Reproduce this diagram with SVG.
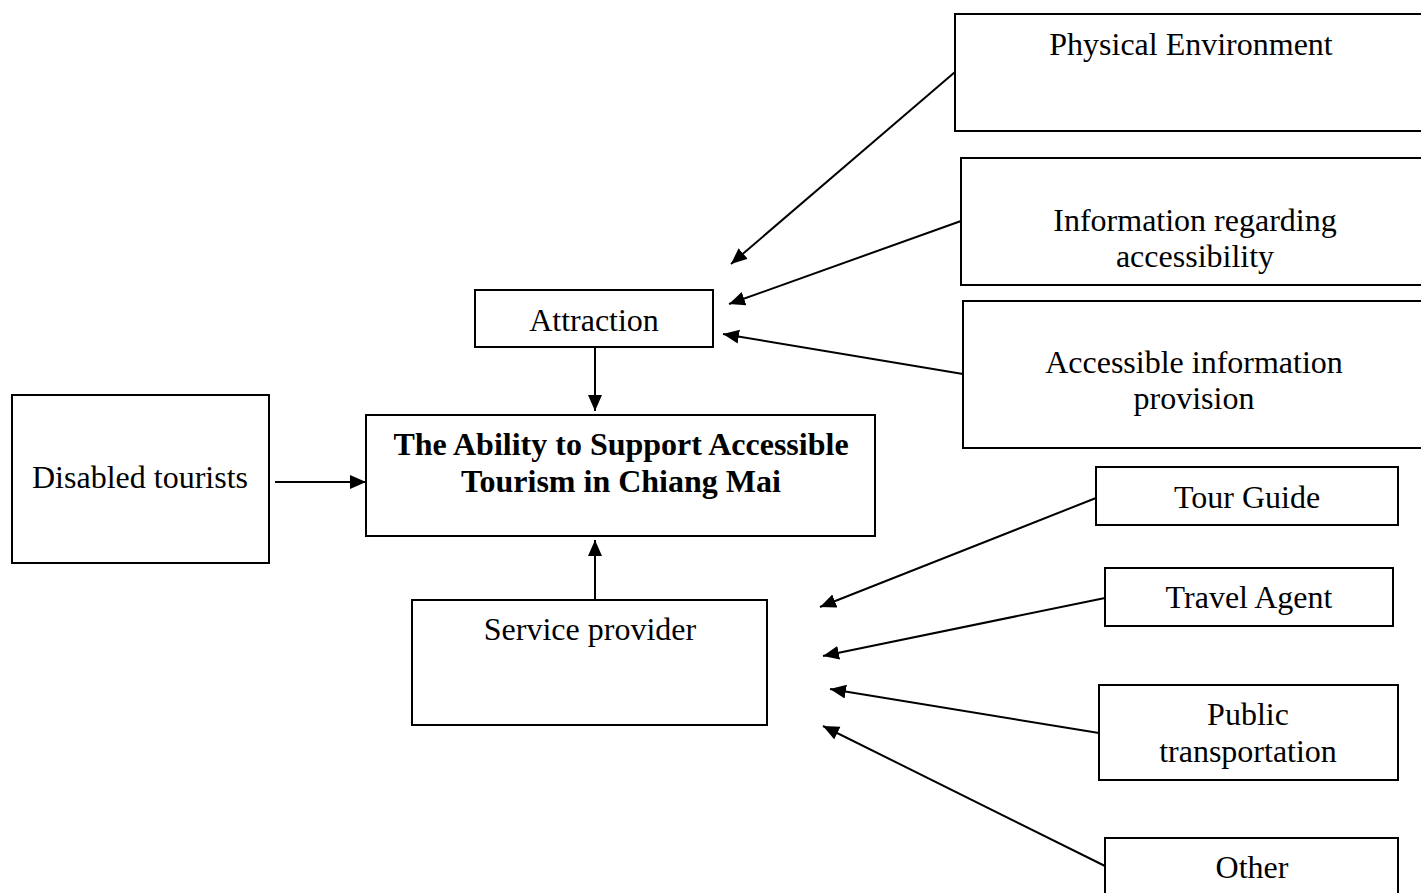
<svg xmlns="http://www.w3.org/2000/svg" width="1421" height="893" viewBox="0 0 1421 893">
<style>
.box{fill:#fff;stroke:#000;stroke-width:2}
.t{font-family:"Liberation Serif","Times New Roman",serif;font-size:32px;fill:#000;text-anchor:middle}
.b{font-weight:bold}
.c{stroke:#000;stroke-width:2;fill:none;marker-end:url(#ah)}
</style>
<defs>
<marker id="ah" markerUnits="userSpaceOnUse" markerWidth="18" markerHeight="16" refX="16" refY="7" orient="auto">
<path d="M0,0 L16,7 L0,14 z" fill="#000"/>
</marker>
</defs>
<rect width="1421" height="893" fill="#fff"/>
<g id="physical"><rect class="box" x="955" y="14" width="480" height="117"/><text class="t" x="1191" y="55">Physical Environment</text></g>
<g id="info"><rect class="box" x="961" y="158" width="480" height="127"/><text class="t" x="1195" y="231">Information regarding</text><text class="t" x="1195" y="267">accessibility</text></g>
<g id="accinfo"><rect class="box" x="963" y="301" width="480" height="147"/><text class="t" x="1194" y="373">Accessible information</text><text class="t" x="1194" y="409">provision</text></g>
<g id="attraction"><rect class="box" x="475" y="290" width="238" height="57"/><text class="t" x="594" y="331">Attraction</text></g>
<g id="main"><rect class="box" x="366" y="415" width="509" height="121"/><text class="t b" x="621" y="455">The Ability to Support Accessible</text><text class="t b" x="621" y="492">Tourism in Chiang Mai</text></g>
<g id="disabled"><rect class="box" x="12" y="395" width="257" height="168"/><text class="t" x="140" y="488">Disabled tourists</text></g>
<g id="service"><rect class="box" x="412" y="600" width="355" height="125"/><text class="t" x="590" y="640">Service provider</text></g>
<g id="tourguide"><rect class="box" x="1096" y="467" width="302" height="58"/><text class="t" x="1247" y="508">Tour Guide</text></g>
<g id="travelagent"><rect class="box" x="1105" y="568" width="288" height="58"/><text class="t" x="1249" y="608">Travel Agent</text></g>
<g id="public"><rect class="box" x="1099" y="685" width="299" height="95"/><text class="t" x="1248" y="725">Public</text><text class="t" x="1248" y="762">transportation</text></g>
<g id="other"><rect class="box" x="1105" y="838" width="293" height="80"/><text class="t" x="1252" y="878">Other</text></g>
<g id="connectors">
<line class="c" x1="955" y1="72" x2="731" y2="264"/>
<line class="c" x1="961" y1="221" x2="729" y2="304"/>
<line class="c" x1="963" y1="374" x2="723" y2="334"/>
<line class="c" x1="595" y1="347" x2="595" y2="411"/>
<line class="c" x1="275" y1="482" x2="366" y2="482"/>
<line class="c" x1="595" y1="600" x2="595" y2="540"/>
<line class="c" x1="1096" y1="498" x2="820" y2="607"/>
<line class="c" x1="1105" y1="598" x2="823" y2="656"/>
<line class="c" x1="1099" y1="733" x2="830" y2="689"/>
<line class="c" x1="1105" y1="866" x2="823" y2="726"/>
</g>
</svg>
